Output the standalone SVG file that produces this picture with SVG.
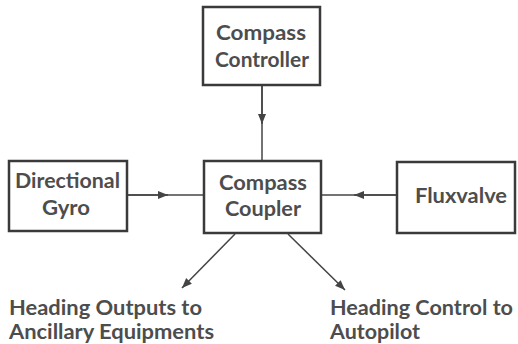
<svg xmlns="http://www.w3.org/2000/svg" width="518" height="344" viewBox="0 0 518 344">
<style>
.box{fill:#fff;stroke:#3a3a3a;stroke-width:2.5}
.t{font-family:Lato,"Liberation Sans",sans-serif;font-size:20px;font-weight:bold;fill:#4d4d4d;text-anchor:middle}
.l{font-family:Lato,"Liberation Sans",sans-serif;font-size:20px;font-weight:bold;fill:#4d4d4d}
.c{stroke:#444;stroke-width:1.5;fill:none}
</style>
<defs>
<marker id="ah" viewBox="0 0 10 10" refX="10" refY="5" markerWidth="10" markerHeight="10" markerUnits="userSpaceOnUse" orient="auto">
<path d="M0,1 L10,5 L0,9 Z" fill="#444"/>
</marker>
</defs>
<rect width="518" height="344" fill="#fff"/>
<g id="connectors">
<line class="c" x1="262" y1="85" x2="262" y2="161"/>
<line class="c" x1="262" y1="85" x2="262" y2="124" marker-end="url(#ah)"/>
<line class="c" x1="127" y1="195" x2="204" y2="195"/>
<line class="c" x1="127" y1="195" x2="168" y2="195" marker-end="url(#ah)"/>
<line class="c" x1="397" y1="195" x2="321" y2="195"/>
<line class="c" x1="397" y1="195" x2="354" y2="195" marker-end="url(#ah)"/>
<line class="c" x1="235" y1="234" x2="182" y2="288" marker-end="url(#ah)"/>
<line class="c" x1="288" y1="234" x2="345" y2="290" marker-end="url(#ah)"/>
</g>
<g id="compass-controller">
<rect class="box" x="203" y="7" width="117" height="78"/>
<text class="t" x="261" y="40" textLength="90" lengthAdjust="spacingAndGlyphs">Compass</text>
<text class="t" x="262" y="67" textLength="94" lengthAdjust="spacingAndGlyphs">Controller</text>
</g>
<g id="directional-gyro">
<rect class="box" x="9" y="161" width="118" height="70"/>
<text class="t" x="67.5" y="188" textLength="105" lengthAdjust="spacingAndGlyphs">Directional</text>
<text class="t" x="66" y="215" textLength="48" lengthAdjust="spacingAndGlyphs">Gyro</text>
</g>
<g id="compass-coupler">
<rect class="box" x="204" y="161" width="117" height="72"/>
<text class="t" x="263" y="190" textLength="88" lengthAdjust="spacingAndGlyphs">Compass</text>
<text class="t" x="263" y="216" textLength="76" lengthAdjust="spacingAndGlyphs">Coupler</text>
</g>
<g id="fluxvalve">
<rect class="box" x="397" y="162" width="118" height="71"/>
<text class="t" x="461" y="203" textLength="92" lengthAdjust="spacingAndGlyphs">Fluxvalve</text>
</g>
<g id="labels">
<text class="l" x="9" y="315" textLength="193" lengthAdjust="spacingAndGlyphs">Heading Outputs to</text>
<text class="l" x="9" y="339" textLength="205" lengthAdjust="spacingAndGlyphs">Ancillary Equipments</text>
<text class="l" x="330" y="315" textLength="183" lengthAdjust="spacingAndGlyphs">Heading Control to</text>
<text class="l" x="330" y="339" textLength="90" lengthAdjust="spacingAndGlyphs">Autopilot</text>
</g>
</svg>
